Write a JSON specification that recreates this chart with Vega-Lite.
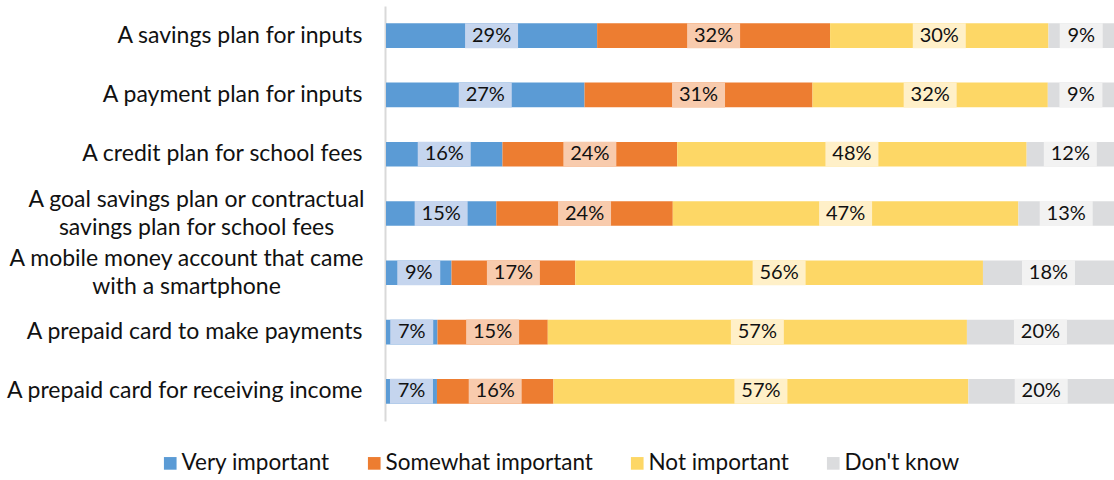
{
  "$schema": "https://vega.github.io/schema/vega-lite/v6.json",
  "width": 728,
  "height": 415,
  "autosize": {"type": "none"},
  "padding": {"left": 386, "top": 6, "right": 0, "bottom": 59},
  "background": "white",
  "config": {"view": {"stroke": null}, "font": "Lato"},
  "data": {
    "values": [
      {"cat": "A savings plan for inputs", "r": "Very important", "v": 29},
      {"cat": "A savings plan for inputs", "r": "Somewhat important", "v": 32},
      {"cat": "A savings plan for inputs", "r": "Not important", "v": 30},
      {"cat": "A savings plan for inputs", "r": "Don't know", "v": 9},
      {"cat": "A payment plan for inputs", "r": "Very important", "v": 27},
      {"cat": "A payment plan for inputs", "r": "Somewhat important", "v": 31},
      {"cat": "A payment plan for inputs", "r": "Not important", "v": 32},
      {"cat": "A payment plan for inputs", "r": "Don't know", "v": 9},
      {"cat": "A credit plan for school fees", "r": "Very important", "v": 16},
      {"cat": "A credit plan for school fees", "r": "Somewhat important", "v": 24},
      {"cat": "A credit plan for school fees", "r": "Not important", "v": 48},
      {"cat": "A credit plan for school fees", "r": "Don't know", "v": 12},
      {"cat": "A goal savings plan or contractual savings plan for school fees", "r": "Very important", "v": 15},
      {"cat": "A goal savings plan or contractual savings plan for school fees", "r": "Somewhat important", "v": 24},
      {"cat": "A goal savings plan or contractual savings plan for school fees", "r": "Not important", "v": 47},
      {"cat": "A goal savings plan or contractual savings plan for school fees", "r": "Don't know", "v": 13},
      {"cat": "A mobile money account that came with a smartphone", "r": "Very important", "v": 9},
      {"cat": "A mobile money account that came with a smartphone", "r": "Somewhat important", "v": 17},
      {"cat": "A mobile money account that came with a smartphone", "r": "Not important", "v": 56},
      {"cat": "A mobile money account that came with a smartphone", "r": "Don't know", "v": 18},
      {"cat": "A prepaid card to make payments", "r": "Very important", "v": 7},
      {"cat": "A prepaid card to make payments", "r": "Somewhat important", "v": 15},
      {"cat": "A prepaid card to make payments", "r": "Not important", "v": 57},
      {"cat": "A prepaid card to make payments", "r": "Don't know", "v": 20},
      {"cat": "A prepaid card for receiving income", "r": "Very important", "v": 7},
      {"cat": "A prepaid card for receiving income", "r": "Somewhat important", "v": 16},
      {"cat": "A prepaid card for receiving income", "r": "Not important", "v": 57},
      {"cat": "A prepaid card for receiving income", "r": "Don't know", "v": 20}
    ]
  },
  "transform": [
    {"joinaggregate": [{"op": "sum", "field": "v", "as": "total"}], "groupby": ["cat"]},
    {"window": [{"op": "sum", "field": "v", "as": "cum"}], "sort": [{"field": "r", "order": "descending"}], "groupby": ["cat"], "frame": [null, 0]},
    {"calculate": "(datum.cum - datum.v) / datum.total", "as": "s0"},
    {"calculate": "datum.cum / datum.total", "as": "s1"},
    {"calculate": "(datum.cum - datum.v / 2) / datum.total", "as": "mid"},
    {"calculate": "datum.v + '%'", "as": "lab"}
  ],
  "encoding": {
    "y": {
      "field": "cat",
      "type": "nominal",
      "sort": null,
      "scale": {"paddingInner": 0.584, "paddingOuter": 0.292},
      "axis": {
        "title": null,
        "ticks": false,
        "domain": true,
        "domainColor": "#D9D9D9",
        "domainWidth": 2,
        "offset": 1,
        "labelPadding": {"condition": [{"test": "indexof(datum.value, 'goal') >= 0", "value": 189}, {"test": "indexof(datum.value, 'mobile') >= 0", "value": 199}], "value": 23},
        "labelAlign": {"condition": {"test": "indexof(datum.value, 'goal') >= 0 || indexof(datum.value, 'mobile') >= 0", "value": "center"}, "value": "right"},
        "labelOffset": {"condition": {"test": "indexof(datum.value, 'goal') >= 0 || indexof(datum.value, 'mobile') >= 0", "value": -14}, "value": 0},
        "labelFont": "Lato",
        "labelFontSize": 23,
        "labelColor": "#111111",
        "labelLimit": 400,
        "labelLineHeight": 28,
        "labelExpr": "indexof(datum.value, 'goal') >= 0 ? ['A goal savings plan or contractual', 'savings plan for school fees'] : indexof(datum.value, 'mobile') >= 0 ? ['A mobile money account that came', 'with a smartphone'] : datum.value"
      }
    }
  },
  "layer": [
    {
      "mark": {"type": "bar"},
      "encoding": {
        "x": {"field": "s0", "type": "quantitative", "scale": {"domain": [0, 1]}, "axis": null},
        "x2": {"field": "s1"},
        "color": {
          "field": "r",
          "type": "nominal",
          "scale": {
            "domain": ["Very important", "Somewhat important", "Not important", "Don't know"],
            "range": ["#5B9BD5", "#ED7D31", "#FDD766", "#DBDCDE"]
          },
          "legend": {
            "title": null,
            "orient": "none",
            "direction": "horizontal",
            "legendX": -227,
            "legendY": 446,
            "symbolType": "square",
            "symbolSize": 160,
            "symbolStrokeWidth": 0,
            "labelFont": "Lato",
            "labelFontSize": 22.5,
            "labelColor": "#111111",
            "labelOffset": 0,
            "columnPadding": 33,
            "labelLimit": 300
          }
        }
      }
    },
    {
      "mark": {"type": "point", "filled": true, "opacity": 1, "strokeWidth": 0},
      "encoding": {
        "x": {"field": "mid", "type": "quantitative"},
        "fill": {
          "field": "r",
          "type": "nominal",
          "scale": {
            "domain": ["Very important", "Somewhat important", "Not important", "Don't know"],
            "range": ["#C5D5EE", "#F8CBAD", "#FFF0C8", "#F2F2F2"]
          },
          "legend": null
        },
        "shape": {"condition": {"test": "datum.v < 10", "value": "M-1,-0.581H1V0.581H-1Z"}, "value": "M-1,-0.472H1V0.472H-1Z"},
        "size": {"condition": {"test": "datum.v < 10", "value": 1849}, "value": 2809}
      }
    },
    {
      "mark": {"type": "text", "font": "Lato", "fontSize": 20, "color": "#111111", "baseline": "middle", "align": "center"},
      "encoding": {
        "x": {"field": "mid", "type": "quantitative"},
        "text": {"field": "lab"}
      }
    }
  ]
}
